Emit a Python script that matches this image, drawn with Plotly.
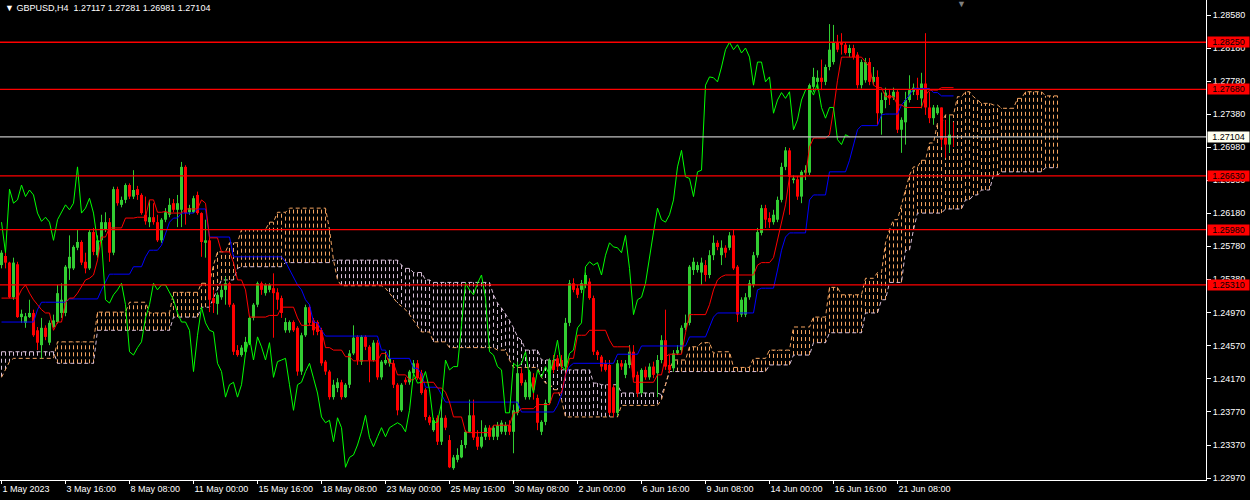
import plotly.graph_objects as go

# ---------------- data ----------------
title_text = "GBPUSD,H4\u00a0\u00a01.27117 1.27281 1.26981 1.27104"
bid_price = 1.27104
red_levels = [1.28250, 1.27680, 1.26630, 1.25980, 1.25310]

x_tick_bars = [0, 16, 32, 48, 64, 80, 96, 112, 128, 144, 160, 176, 192, 208, 224]
x_tick_labels = ["1 May 2023", "3 May 16:00", "8 May 08:00", "11 May 00:00", "15 May 16:00",
                 "18 May 08:00", "23 May 00:00", "25 May 16:00", "30 May 08:00", "2 Jun 00:00",
                 "6 Jun 16:00", "9 Jun 08:00", "14 Jun 00:00", "16 Jun 16:00", "21 Jun 08:00"]
y_tick_values = [1.28580, 1.28180, 1.27780, 1.27380, 1.26980, 1.26580, 1.26180, 1.25780,
                 1.25380, 1.24970, 1.24570, 1.24170, 1.23770, 1.23370, 1.22970]

opens = [
    1.2555, 1.2566, 1.2558, 1.2516, 1.2556, 1.2492, 1.2485, 1.2492, 1.2497, 1.2476,
    1.2458, 1.2479, 1.2461, 1.2480, 1.2486, 1.2497, 1.2497, 1.2551, 1.2551, 1.2576,
    1.2583, 1.2559, 1.2551, 1.2595, 1.2567, 1.2585, 1.2598, 1.2607, 1.2570, 1.2647,
    1.2628, 1.2634, 1.2652, 1.2638, 1.2647, 1.2640, 1.2616, 1.2607, 1.2613, 1.2607,
    1.2585, 1.2610, 1.2616, 1.2630, 1.2622, 1.2622, 1.2674, 1.2619, 1.2619, 1.2640,
    1.2618, 1.2582, 1.2585, 1.2515, 1.2508, 1.2516, 1.2525, 1.2533, 1.2507, 1.2452,
    1.2446, 1.2450, 1.2461, 1.2491, 1.2507, 1.2533, 1.2521, 1.2525, 1.2527, 1.2522,
    1.2515, 1.2476, 1.2476, 1.2486, 1.2479, 1.2426, 1.2470, 1.2504, 1.2488, 1.2486,
    1.2476, 1.2438, 1.2426, 1.2395, 1.2406, 1.2413, 1.2395, 1.2410, 1.2448, 1.2468,
    1.2438, 1.2468, 1.2456, 1.2440, 1.2461, 1.2419, 1.2436, 1.2436, 1.2436, 1.2410,
    1.2379, 1.2416, 1.2413, 1.2424, 1.2436, 1.2424, 1.2404, 1.2371, 1.2355, 1.2370,
    1.2341, 1.2370, 1.2343, 1.2309, 1.2319, 1.2322, 1.2337, 1.2353, 1.2373, 1.2347,
    1.2335, 1.2347, 1.2358, 1.2347, 1.2347, 1.2353, 1.2353, 1.2361, 1.2353, 1.2376,
    1.2424, 1.2395, 1.2395, 1.2419, 1.2394, 1.2353, 1.2365, 1.2388, 1.2440, 1.2442,
    1.2440, 1.2432, 1.2485, 1.2533, 1.2527, 1.2525, 1.2531, 1.2535, 1.2515, 1.2450,
    1.2444, 1.2436, 1.2434, 1.2407, 1.2376, 1.2436, 1.2422, 1.2434, 1.2450, 1.2422,
    1.2400, 1.2428, 1.2419, 1.2432, 1.2424, 1.2440, 1.2464, 1.2434, 1.2430, 1.2448,
    1.2452, 1.2479, 1.2485, 1.2549, 1.2549, 1.2546, 1.2555, 1.2543, 1.2567, 1.2582,
    1.2567, 1.2576, 1.2576, 1.2591, 1.2553, 1.2495, 1.2495, 1.2516, 1.2531, 1.2567,
    1.2594, 1.2624, 1.2612, 1.2607, 1.2610, 1.2634, 1.2674, 1.2694, 1.2658, 1.2659,
    1.2638, 1.2667, 1.2667, 1.2771, 1.2777, 1.2782, 1.2777, 1.2795, 1.2801, 1.2825,
    1.2824, 1.2822, 1.2812, 1.2818, 1.2810, 1.2773, 1.2779, 1.2801, 1.2777, 1.2783,
    1.2739, 1.2755, 1.2761, 1.2758, 1.2765, 1.2719, 1.2728, 1.2755, 1.2765, 1.2770,
    1.2757, 1.2775, 1.2746, 1.2733, 1.2739, 1.2746, 1.2709, 1.2701, 1.27117]
highs = [
    1.2573, 1.2571, 1.2559, 1.2564, 1.2559, 1.2501, 1.2497, 1.2513, 1.2501, 1.2480,
    1.2491, 1.2482, 1.2488, 1.2495, 1.2531, 1.2533, 1.2555, 1.2591, 1.2579, 1.2598,
    1.2585, 1.2570, 1.2598, 1.2600, 1.2591, 1.2616, 1.2619, 1.2612, 1.2650, 1.2650,
    1.2638, 1.2654, 1.2654, 1.2670, 1.2651, 1.2642, 1.2638, 1.2634, 1.2630, 1.2616,
    1.2612, 1.2624, 1.2636, 1.2635, 1.2640, 1.2680, 1.2676, 1.2628, 1.2639, 1.2644,
    1.2619, 1.2610, 1.2588, 1.2525, 1.2522, 1.2531, 1.2541, 1.2535, 1.2509, 1.2458,
    1.2458, 1.2468, 1.2493, 1.2509, 1.2535, 1.2535, 1.2533, 1.2533, 1.2545, 1.2527,
    1.2518, 1.2491, 1.2488, 1.2488, 1.2481, 1.2473, 1.2507, 1.2507, 1.2491, 1.2488,
    1.2479, 1.2440, 1.2428, 1.2416, 1.2418, 1.2416, 1.2412, 1.2452, 1.2482, 1.2470,
    1.2470, 1.2470, 1.2458, 1.2464, 1.2464, 1.2440, 1.2450, 1.2452, 1.2440, 1.2412,
    1.2412, 1.2419, 1.2428, 1.2440, 1.2440, 1.2428, 1.2406, 1.2373, 1.2370, 1.2373,
    1.2392, 1.2373, 1.2349, 1.2325, 1.2333, 1.2343, 1.2355, 1.2392, 1.2392, 1.2355,
    1.2367, 1.2361, 1.2361, 1.2361, 1.2365, 1.2367, 1.2365, 1.2367, 1.2386, 1.2438,
    1.2430, 1.2416, 1.2428, 1.2424, 1.2398, 1.2367, 1.2392, 1.2442, 1.2446, 1.2446,
    1.2446, 1.2491, 1.2537, 1.2539, 1.2531, 1.2537, 1.2546, 1.2539, 1.2518, 1.2452,
    1.2446, 1.2440, 1.2440, 1.2410, 1.2440, 1.2440, 1.2440, 1.2458, 1.2458, 1.2426,
    1.2430, 1.2432, 1.2436, 1.2438, 1.2446, 1.2470, 1.2501, 1.2446, 1.2452, 1.2458,
    1.2482, 1.2495, 1.2555, 1.2564, 1.2559, 1.2564, 1.2561, 1.2573, 1.2591, 1.2585,
    1.2585, 1.2579, 1.2595, 1.2598, 1.2555, 1.2516, 1.2521, 1.2537, 1.2571, 1.2600,
    1.2628, 1.2628, 1.2619, 1.2622, 1.2638, 1.2679, 1.2698, 1.2697, 1.2664, 1.2663,
    1.2670, 1.2676, 1.2775, 1.2794, 1.2791, 1.2804, 1.2798, 1.2847, 1.2846, 1.2834,
    1.2836, 1.2825, 1.2822, 1.2822, 1.2813, 1.2804, 1.2806, 1.2806, 1.2795, 1.2791,
    1.2764, 1.2770, 1.2767, 1.2770, 1.2767, 1.2734, 1.2765, 1.2785, 1.2775, 1.2782,
    1.2788, 1.2836, 1.2765, 1.2749, 1.2749, 1.2746, 1.2731, 1.2737, 1.27281]
lows = [
    1.2551, 1.2551, 1.2515, 1.2513, 1.2491, 1.2485, 1.2479, 1.2491, 1.2468, 1.2452,
    1.2442, 1.2464, 1.2458, 1.2479, 1.2484, 1.2491, 1.2493, 1.2537, 1.2549, 1.2573,
    1.2555, 1.2545, 1.2549, 1.2567, 1.2564, 1.2582, 1.2595, 1.2559, 1.2567, 1.2627,
    1.2625, 1.2630, 1.2635, 1.2635, 1.2634, 1.2616, 1.2604, 1.2601, 1.2604, 1.2583,
    1.2582, 1.2607, 1.2613, 1.2619, 1.2601, 1.2601, 1.2604, 1.2616, 1.2618, 1.2616,
    1.2565, 1.2564, 1.2498, 1.2497, 1.2495, 1.2513, 1.2507, 1.2504, 1.2446, 1.2444,
    1.2444, 1.2447, 1.2458, 1.2488, 1.2504, 1.2519, 1.2518, 1.2522, 1.2467, 1.2501,
    1.2491, 1.2473, 1.2473, 1.2474, 1.2421, 1.2422, 1.2468, 1.2482, 1.2470, 1.2470,
    1.2433, 1.2422, 1.2392, 1.2392, 1.2401, 1.2392, 1.2394, 1.2406, 1.2446, 1.2434,
    1.2434, 1.2452, 1.2413, 1.2438, 1.2416, 1.2416, 1.2434, 1.2432, 1.2406, 1.2373,
    1.2377, 1.2410, 1.2410, 1.2421, 1.2416, 1.2398, 1.2367, 1.2361, 1.2353, 1.2337,
    1.2337, 1.2355, 1.2309, 1.2307, 1.2316, 1.2321, 1.2333, 1.2352, 1.2343, 1.2331,
    1.2333, 1.2343, 1.2343, 1.2343, 1.2343, 1.2350, 1.2349, 1.2349, 1.2327, 1.2373,
    1.2409, 1.2392, 1.2392, 1.2392, 1.2355, 1.2349, 1.2361, 1.2386, 1.2424, 1.2428,
    1.2428, 1.2428, 1.2481, 1.2522, 1.2515, 1.2521, 1.2527, 1.2513, 1.2446, 1.2440,
    1.2426, 1.2426, 1.2373, 1.2371, 1.2372, 1.2428, 1.2418, 1.2430, 1.2416, 1.2395,
    1.2398, 1.2416, 1.2416, 1.2418, 1.2395, 1.2436, 1.2428, 1.2424, 1.2426, 1.2446,
    1.2448, 1.2476, 1.2482, 1.2543, 1.2546, 1.2531, 1.2535, 1.2539, 1.2561, 1.2573,
    1.2555, 1.2564, 1.2573, 1.2549, 1.2486, 1.2492, 1.2492, 1.2513, 1.2528, 1.2564,
    1.2591, 1.2600, 1.2600, 1.2604, 1.2607, 1.2631, 1.2670, 1.2616, 1.2654, 1.2634,
    1.2630, 1.2658, 1.2664, 1.2765, 1.2767, 1.2767, 1.2773, 1.2791, 1.2798, 1.2813,
    1.2810, 1.2810, 1.2807, 1.2804, 1.2769, 1.2769, 1.2776, 1.2773, 1.2773, 1.2725,
    1.2713, 1.2745, 1.2749, 1.2755, 1.2715, 1.2691, 1.2701, 1.2752, 1.2761, 1.2755,
    1.2745, 1.2737, 1.2727, 1.2725, 1.2737, 1.2698, 1.2685, 1.2691, 1.26981]
closes = [
    1.2570, 1.2558, 1.2516, 1.2558, 1.2492, 1.2496, 1.2493, 1.2497, 1.2470, 1.2461,
    1.2479, 1.2468, 1.2485, 1.2488, 1.2521, 1.2513, 1.2553, 1.2565, 1.2577, 1.2583,
    1.2558, 1.2551, 1.2595, 1.2571, 1.2585, 1.2607, 1.2607, 1.2570, 1.2647, 1.2630,
    1.2634, 1.2652, 1.2638, 1.2646, 1.2640, 1.2618, 1.2608, 1.2613, 1.2607, 1.2585,
    1.2610, 1.2619, 1.2628, 1.2622, 1.2630, 1.2674, 1.2618, 1.2624, 1.2636, 1.2618,
    1.2583, 1.2585, 1.2513, 1.2509, 1.2519, 1.2525, 1.2533, 1.2507, 1.2450, 1.2446,
    1.2455, 1.2462, 1.2491, 1.2507, 1.2533, 1.2525, 1.2531, 1.2531, 1.2521, 1.2513,
    1.2497, 1.2486, 1.2486, 1.2476, 1.2426, 1.2470, 1.2504, 1.2485, 1.2476, 1.2474,
    1.2436, 1.2426, 1.2395, 1.2410, 1.2413, 1.2395, 1.2410, 1.2448, 1.2467, 1.2440,
    1.2468, 1.2456, 1.2440, 1.2461, 1.2419, 1.2438, 1.2440, 1.2442, 1.2410, 1.2379,
    1.2410, 1.2413, 1.2426, 1.2436, 1.2418, 1.2400, 1.2371, 1.2364, 1.2367, 1.2341,
    1.2370, 1.2358, 1.2310, 1.2322, 1.2325, 1.2337, 1.2353, 1.2373, 1.2346, 1.2335,
    1.2347, 1.2358, 1.2347, 1.2358, 1.2361, 1.2364, 1.2361, 1.2353, 1.2379, 1.2424,
    1.2412, 1.2413, 1.2426, 1.2404, 1.2364, 1.2365, 1.2388, 1.2440, 1.2428, 1.2432,
    1.2432, 1.2485, 1.2533, 1.2525, 1.2519, 1.2533, 1.2543, 1.2515, 1.2450, 1.2446,
    1.2432, 1.2428, 1.2376, 1.2376, 1.2436, 1.2432, 1.2436, 1.2450, 1.2419, 1.2400,
    1.2428, 1.2419, 1.2432, 1.2422, 1.2440, 1.2464, 1.2432, 1.2428, 1.2448, 1.2452,
    1.2479, 1.2485, 1.2553, 1.2559, 1.2555, 1.2558, 1.2543, 1.2567, 1.2582, 1.2577,
    1.2576, 1.2570, 1.2591, 1.2551, 1.2495, 1.2513, 1.2516, 1.2533, 1.2567, 1.2595,
    1.2624, 1.2610, 1.2607, 1.2616, 1.2634, 1.2674, 1.2694, 1.2662, 1.2660, 1.2638,
    1.2668, 1.2670, 1.2773, 1.2783, 1.2782, 1.2777, 1.2795, 1.2816, 1.2825, 1.2816,
    1.2822, 1.2812, 1.2818, 1.2807, 1.2773, 1.2801, 1.2801, 1.2777, 1.2783, 1.2739,
    1.2755, 1.2764, 1.2757, 1.2765, 1.2719, 1.2731, 1.2755, 1.2767, 1.2770, 1.2761,
    1.2775, 1.2746, 1.2733, 1.2746, 1.2746, 1.2707, 1.2701, 1.2713, 1.27104]

# Ichimoku lines: (first bar, value) for each level
tenkan_steps = [
    (0, 1.2515), (5, 1.2525), (6, 1.2531), (7, 1.2521), (8, 1.2513), (9, 1.2507), (10, 1.2501),
    (11, 1.2497), (13, 1.2476), (14, 1.2486), (16, 1.2510), (17, 1.2515), (19, 1.2521),
    (20, 1.2529), (21, 1.2537), (22, 1.2539), (23, 1.2543), (24, 1.2561), (25, 1.2589),
    (27, 1.2600), (31, 1.2612), (34, 1.2613), (37, 1.2634), (39, 1.2619), (41, 1.2620),
    (42, 1.2618), (46, 1.2623), (50, 1.2634), (51, 1.2630), (52, 1.2588), (55, 1.2571),
    (58, 1.2558), (59, 1.2537), (61, 1.2525), (62, 1.2492), (67, 1.2494), (70, 1.2504),
    (74, 1.2491), (75, 1.2482), (79, 1.2476), (81, 1.2455), (83, 1.2452), (86, 1.2444),
    (88, 1.2439), (95, 1.2448), (97, 1.2436), (99, 1.2422), (102, 1.2416), (104, 1.2422),
    (105, 1.2413), (109, 1.2406), (111, 1.2401), (112, 1.2389), (113, 1.2371), (116, 1.2353),
    (117, 1.2352), (123, 1.2361), (128, 1.2376), (130, 1.2381), (134, 1.2386), (138, 1.2400),
    (141, 1.2422), (142, 1.2442), (144, 1.2470), (147, 1.2476), (152, 1.2464), (153, 1.2456),
    (158, 1.2413), (164, 1.2422), (166, 1.2444), (167, 1.2447), (171, 1.2473), (172, 1.2495),
    (177, 1.2507), (178, 1.2525), (179, 1.2537), (180, 1.2541), (181, 1.2543), (189, 1.2555),
    (190, 1.2558), (193, 1.2564), (194, 1.2585), (195, 1.2610), (196, 1.2628), (197, 1.2662),
    (202, 1.2698), (203, 1.2709), (207, 1.2713), (208, 1.2743), (209, 1.2779), (210, 1.2807),
    (216, 1.2801), (217, 1.2795), (218, 1.2773), (219, 1.2770), (221, 1.2759), (224, 1.2749),
    (226, 1.2746), (231, 1.2761), (232, 1.2767), (235, 1.2770)]
kijun_steps = [
    (0, 1.2486), (9, 1.2501), (10, 1.2510), (17, 1.2514), (25, 1.2525), (26, 1.2535),
    (27, 1.2544), (33, 1.2553), (36, 1.2565), (37, 1.2573), (40, 1.2579), (41, 1.2594),
    (42, 1.2607), (43, 1.2612), (45, 1.2618), (49, 1.2623), (52, 1.2589), (58, 1.2565),
    (71, 1.2559), (72, 1.2549), (73, 1.2541), (74, 1.2531), (75, 1.2525), (76, 1.2513),
    (77, 1.2507), (78, 1.2486), (79, 1.2485), (80, 1.2476), (81, 1.2469), (95, 1.2452),
    (97, 1.2442), (103, 1.2430), (105, 1.2423), (106, 1.2407), (110, 1.2398), (111, 1.2389),
    (130, 1.2377), (139, 1.2385), (140, 1.2398), (141, 1.2422), (142, 1.2432), (143, 1.2436),
    (154, 1.2447), (160, 1.2457), (172, 1.2468), (177, 1.2480), (178, 1.2492), (179, 1.2497),
    (189, 1.2525), (190, 1.2527), (194, 1.2549), (195, 1.2573), (196, 1.2589), (197, 1.2594),
    (202, 1.2634), (203, 1.2640), (207, 1.2668), (212, 1.2682), (213, 1.2700), (214, 1.2719),
    (215, 1.2724), (220, 1.2737), (221, 1.2738), (225, 1.2749), (226, 1.2755), (227, 1.2761),
    (228, 1.2769), (233, 1.2764), (235, 1.2760)]
span_a_steps = [
    (0, 1.2419), (1, 1.2428), (2, 1.2438), (3, 1.2442), (14, 1.2462), (24, 1.2498),
    (32, 1.2510), (37, 1.2497), (43, 1.2522), (50, 1.2533), (53, 1.2555), (54, 1.2571),
    (57, 1.2582), (60, 1.2598), (67, 1.2607), (69, 1.2619), (72, 1.2624), (82, 1.2598),
    (83, 1.2561), (84, 1.2537), (85, 1.2530), (96, 1.2527), (97, 1.2521), (98, 1.2515),
    (99, 1.2509), (100, 1.2505), (101, 1.2501), (102, 1.2495), (103, 1.2488), (104, 1.2481),
    (105, 1.2474), (108, 1.2462), (112, 1.2455), (124, 1.2452), (127, 1.2440), (128, 1.2431),
    (135, 1.2419), (136, 1.2412), (138, 1.2404), (140, 1.2392), (141, 1.2371), (155, 1.2385),
    (165, 1.2392), (166, 1.2410), (167, 1.2428), (168, 1.2440), (172, 1.2456), (175, 1.2461),
    (178, 1.2448), (179, 1.2450), (183, 1.2431), (188, 1.2442), (192, 1.2452), (198, 1.2480),
    (203, 1.2492), (207, 1.2528), (210, 1.2519), (216, 1.2539), (219, 1.2546), (221, 1.2582),
    (222, 1.2598), (223, 1.2610), (225, 1.2628), (226, 1.2646), (227, 1.2664), (228, 1.2674),
    (230, 1.2682), (232, 1.2703), (234, 1.2727), (236, 1.2737), (239, 1.2759), (241, 1.2765),
    (243, 1.2759), (244, 1.2755), (245, 1.2751), (248, 1.2749), (250, 1.2745), (254, 1.2757),
    (256, 1.2765), (261, 1.2760)]
span_b_steps = [
    (0, 1.2450), (14, 1.2436), (24, 1.2476), (43, 1.2492), (50, 1.2504), (53, 1.2515),
    (54, 1.2525), (55, 1.2537), (59, 1.2551), (60, 1.2553), (71, 1.2558), (83, 1.2561),
    (100, 1.2555), (101, 1.2551), (103, 1.2546), (106, 1.2537), (108, 1.2534), (123, 1.2519),
    (124, 1.2509), (125, 1.2503), (126, 1.2496), (127, 1.2488), (128, 1.2479), (129, 1.2468),
    (130, 1.2464), (131, 1.2452), (135, 1.2440), (140, 1.2428), (148, 1.2412), (150, 1.2410),
    (155, 1.2400), (165, 1.2398), (166, 1.2410), (167, 1.2426), (192, 1.2434), (198, 1.2446),
    (203, 1.2461), (207, 1.2473), (216, 1.2497), (220, 1.2513), (222, 1.2534), (226, 1.2573),
    (228, 1.2598), (229, 1.2618), (236, 1.2623), (241, 1.2634), (243, 1.2640), (245, 1.2646),
    (248, 1.2664), (250, 1.2668), (261, 1.2673)]
ichimoku_shift = 26

# ---------------- styles ----------------
BG = "#000000"
FG = "#FFFFFF"
BULL = "#32CD32"
BEAR = "#FF0000"
TENKAN_C = "#FF0000"
KIJUN_C = "#0000FF"
CHIKOU_C = "#00FF00"
SPAN_A_C = "#F4A460"
SPAN_B_C = "#D8BFD8"
FONT = "Liberation Sans, Arial, sans-serif"
DOT = "4px,3px"

n_bars = len(closes)
n_cloud = n_bars + ichimoku_shift


def expand(steps, n):
    out = []
    k = 0
    for i in range(n):
        while k + 1 < len(steps) and steps[k + 1][0] <= i:
            k += 1
        out.append(steps[k][1])
    return out


tenkan = expand(tenkan_steps, n_bars)
kijun = expand(kijun_steps, n_bars)
span_a = expand(span_a_steps, n_cloud)
span_b = expand(span_b_steps, n_cloud)

fig = go.Figure()

# cloud hatching
hx_a, hy_a, hx_b, hy_b = [], [], [], []
for j in range(n_cloud):
    a, b = span_a[j], span_b[j]
    if a >= b:
        hx_a += [j, j, None]
        hy_a += [b, a, None]
    else:
        hx_b += [j, j, None]
        hy_b += [b, a, None]
fig.add_trace(go.Scatter(x=hx_a, y=hy_a, mode="lines", line=dict(color=SPAN_A_C, width=1, dash=DOT)))
fig.add_trace(go.Scatter(x=hx_b, y=hy_b, mode="lines", line=dict(color=SPAN_B_C, width=1, dash=DOT)))
fig.add_trace(go.Scatter(x=list(range(n_cloud)), y=span_b, mode="lines",
                         line=dict(color=SPAN_B_C, width=1, dash=DOT)))
fig.add_trace(go.Scatter(x=list(range(n_cloud)), y=span_a, mode="lines",
                         line=dict(color=SPAN_A_C, width=1, dash=DOT)))

# candles
min_body = 0.00009
for bull in (True, False):
    wx, wy, bx, by = [], [], [], []
    for i in range(n_bars):
        o, h, l, c = opens[i], highs[i], lows[i], closes[i]
        if (c >= o) != bull:
            continue
        lo_b, hi_b = min(o, c), max(o, c)
        if hi_b - lo_b < min_body:
            mid = (hi_b + lo_b) / 2
            lo_b, hi_b = mid - min_body / 2, mid + min_body / 2
        wx += [i, i, None]
        wy += [max(h, hi_b), min(l, lo_b), None]
        bx += [i, i, None]
        by += [lo_b, hi_b, None]
    col = BULL if bull else BEAR
    fig.add_trace(go.Scatter(x=wx, y=wy, mode="lines", line=dict(color=col, width=1)))
    fig.add_trace(go.Scatter(x=bx, y=by, mode="lines", line=dict(color=col, width=3)))

# indicator lines
fig.add_trace(go.Scatter(x=list(range(n_bars)), y=kijun, mode="lines", line=dict(color=KIJUN_C, width=1)))
fig.add_trace(go.Scatter(x=list(range(n_bars)), y=tenkan, mode="lines", line=dict(color=TENKAN_C, width=1)))
fig.add_trace(go.Scatter(x=list(range(n_bars - ichimoku_shift)), y=closes[ichimoku_shift:], mode="lines",
                         line=dict(color=CHIKOU_C, width=1)))

# horizontal levels
shapes = []
for lv in red_levels:
    shapes.append(dict(type="line", xref="paper", x0=0, x1=1, yref="y", y0=lv, y1=lv,
                       line=dict(color="#FF0000", width=1.3), layer="above"))
shapes.append(dict(type="line", xref="paper", x0=0, x1=1, yref="y", y0=bid_price, y1=bid_price,
                   line=dict(color="#C0C0C0", width=1.3), layer="above"))

annotations = []
for lv in red_levels:
    annotations.append(dict(xref="paper", x=1, xanchor="left", xshift=1, yref="y", y=lv,
                            yanchor="middle", text=f"{lv:.5f}", showarrow=False,
                            bgcolor="#FF0000", font=dict(family=FONT, size=9, color="#000000"),
                            width=41, height=10, borderpad=0))
annotations.append(dict(xref="paper", x=1, xanchor="left", xshift=1, yref="y", y=bid_price,
                        yanchor="middle", text=f"{bid_price:.5f}", showarrow=False,
                        bgcolor="#FFFFF0", font=dict(family=FONT, size=9, color="#000000"),
                        width=41, height=10, borderpad=0))
annotations.append(dict(xref="paper", x=0, xanchor="left", xshift=3, yref="paper", y=1,
                        yanchor="top", yshift=-1, text="\u25BC " + title_text, showarrow=False,
                        font=dict(family=FONT, size=9, color=FG)))
annotations.append(dict(xref="x", x=n_bars + 1, xanchor="center", yref="paper", y=1,
                        yanchor="top", yshift=3, text="\u25BC", showarrow=False,
                        font=dict(family=FONT, size=9, color="#808080")))

fig.update_layout(
    width=1250, height=500,
    margin=dict(l=0, r=44, t=0, b=20, autoexpand=False),
    paper_bgcolor=BG, plot_bgcolor=BG,
    showlegend=False, hovermode=False,
    shapes=shapes, annotations=annotations,
    font=dict(family=FONT, size=9, color=FG),
    xaxis=dict(range=[-0.375, 301.125], showgrid=False, zeroline=False,
               tickmode="array", tickvals=x_tick_bars, ticktext=x_tick_labels,
               ticks="outside", ticklen=3, tickcolor=FG, ticklabelposition="outside right",
               showline=True, linecolor=FG, linewidth=1, automargin=False,
               tickfont=dict(family=FONT, size=9, color=FG)),
    yaxis=dict(range=[1.22946, 1.28762], side="right", showgrid=False, zeroline=False,
               tickmode="array", tickvals=y_tick_values, ticktext=[f"{v:.5f}" for v in y_tick_values],
               ticks="outside", ticklen=4, tickcolor=FG, automargin=False,
               showline=True, linecolor=FG, linewidth=1,
               tickfont=dict(family=FONT, size=9, color=FG)),
)

fig.write_html("out.html", config={"displayModeBar": False},
               post_script="document.body.style.margin='0';document.body.style.overflow='hidden';")
